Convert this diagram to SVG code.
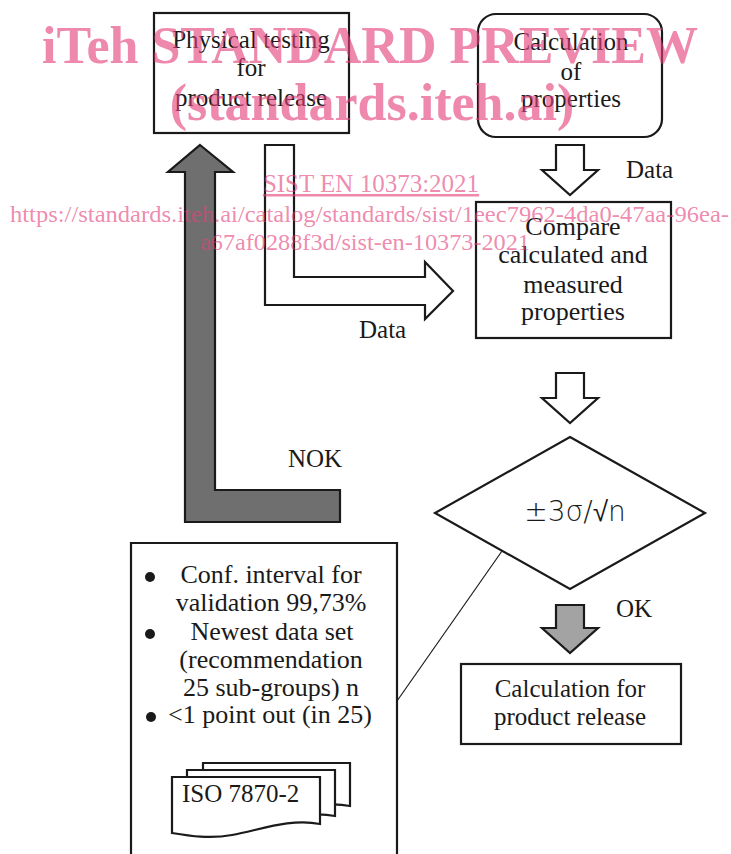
<svg xmlns="http://www.w3.org/2000/svg" width="731" height="854" viewBox="0 0 731 854">
<style>
.box{fill:#fff;stroke:#1a1a1a;stroke-width:2.2}
.t{font-family:"Liberation Serif","Times New Roman",serif;font-size:25px;fill:#1a1a1a;text-anchor:middle}
.tb{font-size:26px}
.tl{font-family:"Liberation Serif","Times New Roman",serif;font-size:25px;fill:#1a1a1a}
.warr{fill:#fff;stroke:#1a1a1a;stroke-width:2.2;stroke-linejoin:miter}
.garr{fill:#6f6f6f;stroke:#1a1a1a;stroke-width:2.2}
.garr2{fill:#a3a3a3;stroke:#1a1a1a;stroke-width:2.2}
.wm{font-family:"Liberation Serif","Times New Roman",serif;fill:#e4407a;fill-opacity:0.62}
</style>
<rect width="731" height="854" fill="#fff"/>
<g id="physical-testing">
<rect class="box" x="154" y="13" width="195" height="120"/>
<text class="t" x="251" y="48">Physical testing</text>
<text class="t" x="251" y="76">for</text>
<text class="t" x="251" y="106">product release</text>
</g>
<g id="calculation-properties">
<rect class="box" x="478" y="14" width="184" height="123" rx="18" ry="18"/>
<text class="t" x="571" y="50">Calculation</text>
<text class="t" x="571" y="80">of</text>
<text class="t" x="571" y="107">properties</text>
</g>
<g id="compare">
<rect class="box" x="476" y="202" width="195" height="136"/>
<text class="t tb" x="573" y="235">Compare</text>
<text class="t tb" x="573" y="263">calculated and</text>
<text class="t tb" x="573" y="293">measured</text>
<text class="t tb" x="573" y="320">properties</text>
</g>
<g id="decision">
<polygon class="box" points="570,437 705,513 570,589 435,513"/>
<text x="575" y="521" style="font-family:'DejaVu Sans','Liberation Sans',sans-serif;font-size:28px;fill:#1a1a1a;text-anchor:middle;font-weight:300">±3σ/√n</text>
</g>
<g id="calc-release">
<rect class="box" x="461" y="664" width="220" height="80"/>
<text class="t" x="570" y="697">Calculation for</text>
<text class="t" x="570" y="725">product release</text>
</g>
<g id="criteria">
<path class="box" d="M131,860 V543 H397 V860"/>
<circle cx="150" cy="577" r="5" fill="#1a1a1a"/>
<circle cx="150" cy="634" r="5" fill="#1a1a1a"/>
<circle cx="151" cy="717" r="5" fill="#1a1a1a"/>
<text class="t tb" x="271" y="583">Conf. interval for</text>
<text class="t tb" x="271" y="611">validation 99,73%</text>
<text class="t tb" x="272" y="640">Newest data set</text>
<text class="t tb" x="271" y="668">(recommendation</text>
<text class="t tb" x="271" y="696">25 sub-groups) n</text>
<text class="t tb" x="270" y="723">&lt;1 point out (in 25)</text>
<g id="iso-doc">
<path class="box" d="M203,763 H350 V806 C320,800 290,812 262,818 C240,823 220,820 203,818 Z"/>
<path class="box" d="M187,770 H335 V816 C305,810 275,822 247,827 C225,831 205,828 187,826 Z"/>
<path class="box" d="M172,777 H320 V824 C290,818 260,830 232,835 C210,839 190,836 172,833 Z"/>
<text class="tl" x="182" y="802">ISO 7870-2</text>
</g>
</g>
<g id="connectors">
<path class="warr" d="M556,145 H584 V170 H598 L570,195 L542,170 H556 Z"/>
<path class="warr" d="M556,373 H584 V398 H598 L570,423 L542,398 H556 Z"/>
<path class="garr2" d="M556,605 H584 V628 H598 L570,653 L542,628 H556 Z"/>
<path class="warr" d="M265,145 H294 V277 H425 V262 L453,291 L425,319 V305 H265 Z"/>
<path class="garr" d="M200,145 L233,172 H215 V490 H340 V522 H185 V172 H168 Z"/>
<line x1="502" y1="551" x2="397" y2="701" stroke="#1a1a1a" stroke-width="1.2"/>
<text class="tl" x="626" y="178">Data</text>
<text class="tl" x="359" y="338">Data</text>
<text class="tl" x="288" y="467">NOK</text>
<text class="tl" x="616" y="617">OK</text>
</g>
<g id="watermark">
<text class="wm" x="370" y="63" style="font-size:52px;font-weight:bold;text-anchor:middle">iTeh STANDARD PREVIEW</text>
<text class="wm" x="372" y="120" style="font-size:52px;font-weight:bold;text-anchor:middle">(standards.iteh.ai)</text>
<text class="wm" x="371" y="192" style="font-size:25px;text-anchor:middle;text-decoration:underline">SIST EN 10373:2021</text>
<text class="wm" x="10" y="222" style="font-size:24px" textLength="719" lengthAdjust="spacingAndGlyphs">https://standards.iteh.ai/catalog/standards/sist/1eec7962-4da0-47aa-96ea-</text>
<text class="wm" x="200" y="250" style="font-size:24px" textLength="330" lengthAdjust="spacingAndGlyphs">a67af0288f3d/sist-en-10373-2021</text>
</g>
</svg>
